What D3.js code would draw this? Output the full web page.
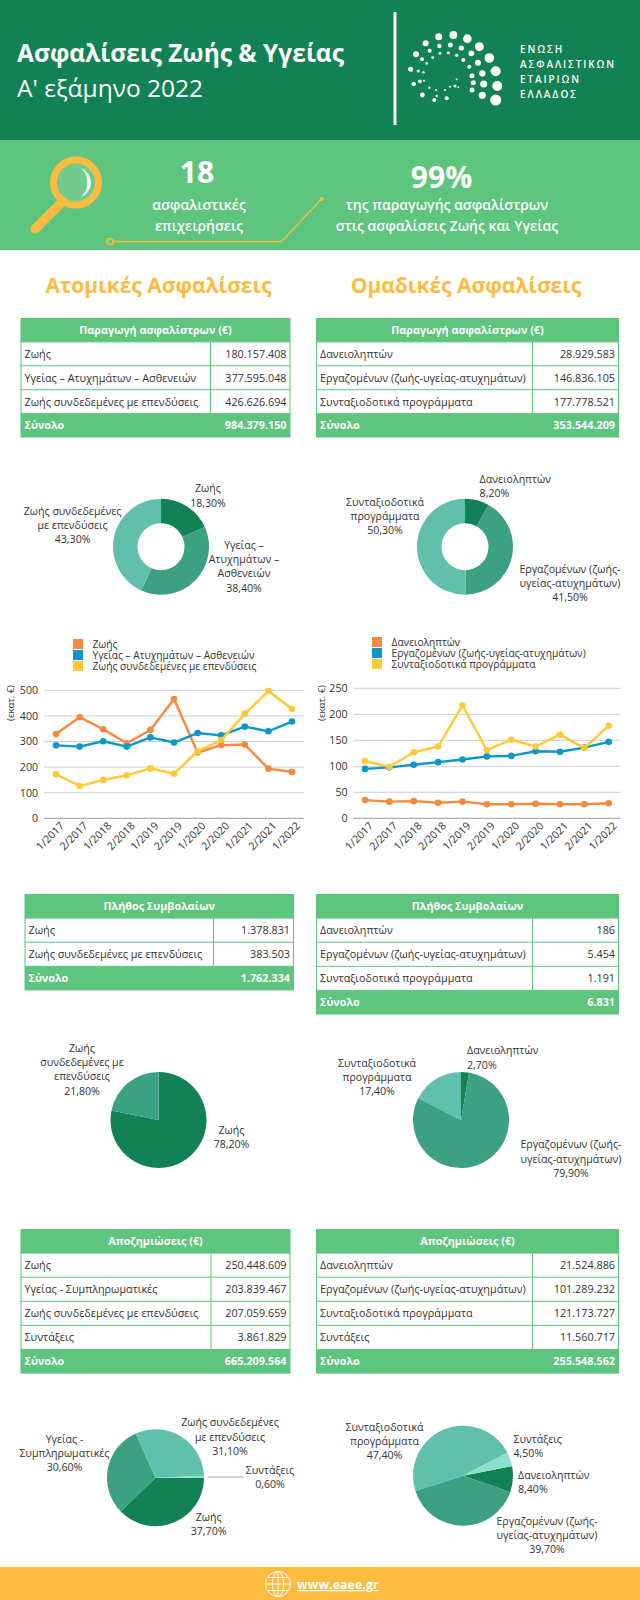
<!DOCTYPE html>
<html lang="el"><head><meta charset="utf-8">
<script src="https://cdn.jsdelivr.net/npm/d3@7"></script>
<style>html,body{margin:0;padding:0;background:#fff}svg{display:block}text{font-family:"Open Sans",sans-serif}</style>
</head><body><svg id="c" width="640" height="1600" viewBox="0 0 640 1600"></svg>
<script>
const periods = ["1/2017","2/2017","1/2018","2/2018","1/2019","2/2019","1/2020","2/2020","1/2021","2/2021","1/2022"];

const lineLeftNames = ["Ζωής","Υγείας – Ατυχημάτων – Ασθενειών","Ζωής συνδεδεμένες με επενδύσεις"];
const lineLeftLife = [329,395,348,293,345,466,257,286,288,194,181];
const lineLeftHealth = [285,280,301,280,316,296,333,324,358,340,378];
const lineLeftInvest = [172,126,150,168,195,174,262,306,408,497,427];
const lineLeftTicks = [0,100,200,300,400,500];

const lineRightNames = ["Δανειοληπτών","Εργαζομένων (ζωής-υγείας-ατυχημάτων)","Συνταξιοδοτικά προγράμματα"];
const lineRightLoan = [35,32,33,30,32,27,27,28,27,27,29];
const lineRightEmp = [95,98,103,108,113,119,120,129,128,136,147];
const lineRightPension = [110,99,127,138,217,131,151,138,161,135,178];
const lineRightTicks = [0,50,100,150,200,250];

const premLeftLabels = ["Ζωής","Υγείας – Ατυχημάτων – Ασθενειών","Ζωής συνδεδεμένες με επενδύσεις"];
const premLeftValues = ["180.157.408","377.595.048","426.626.694"];
const premLeftTotal = "984.379.150";
const premRightLabels = ["Δανειοληπτών","Εργαζομένων (ζωής-υγείας-ατυχημάτων)","Συνταξιοδοτικά προγράμματα"];
const premRightValues = ["28.929.583","146.836.105","177.778.521"];
const premRightTotal = "353.544.209";

const contrLeftLabels = ["Ζωής","Ζωής συνδεδεμένες με επενδύσεις"];
const contrLeftValues = ["1.378.831","383.503"];
const contrLeftTotal = "1.762.334";
const contrRightLabels = ["Δανειοληπτών","Εργαζομένων (ζωής-υγείας-ατυχημάτων)","Συνταξιοδοτικά προγράμματα"];
const contrRightValues = ["186","5.454","1.191"];
const contrRightTotal = "6.831";

const claimLeftLabels = ["Ζωής","Υγείας - Συμπληρωματικές","Ζωής συνδεδεμένες με επενδύσεις","Συντάξεις"];
const claimLeftValues = ["250.448.609","203.839.467","207.059.659","3.861.829"];
const claimLeftTotal = "665.209.564";
const claimRightLabels = ["Δανειοληπτών","Εργαζομένων (ζωής-υγείας-ατυχημάτων)","Συνταξιοδοτικά προγράμματα","Συντάξεις"];
const claimRightValues = ["21.524.886","101.289.232","121.173.727","11.560.717"];
const claimRightTotal = "255.548.562";

const shareDonutLeft = [18.3,38.4,43.3];
const shareDonutRight = [8.2,41.5,50.3];
const sharePieMidLeft = [78.2,21.8];
const sharePieMidRight = [2.7,79.9,17.4];
const sharePieLowLeft = [37.7,30.6,31.1,0.6];
const sharePieLowRight = [8.4,39.7,47.4,4.5];

const pieColors = ["#128156","#3ca083","#61c0ac","#8adfcf"];
const lineColors = ["#f58a3e","#0c97c9","#fdca35"];
const GREEN="#5ec57e", DARK="#128156", YEL="#fdbb3f", INK="#333";

const svg = d3.select("#c");

// ---- header
svg.append("rect").attr("width",640).attr("height",140).attr("fill",DARK);
svg.append("rect").attr("y",140).attr("width",640).attr("height",110).attr("fill",GREEN);
function txt(x,y,s,o={}){
  const t=svg.append("text").attr("x",x).attr("y",y).text(s)
   .attr("font-size",o.size||11).attr("fill",o.fill||INK)
   .attr("font-weight",o.weight||400).attr("text-anchor",o.anchor||"start");
  if(o.ls)t.attr("letter-spacing",o.ls);
  if(o.deco)t.attr("text-decoration",o.deco);
  return t;
}
txt(17,62,"Ασφαλίσεις Ζωής & Υγείας",{size:24.5,weight:700,fill:"#fff"});
txt(17,97,"Α' εξάμηνο 2022",{size:24.5,fill:"#fff"});
svg.append("rect").attr("x",393.5).attr("y",12).attr("width",3).attr("height",113).attr("fill","#f2f7f4");
["ΕΝΩΣΗ","ΑΣΦΑΛΙΣΤΙΚΩΝ","ΕΤΑΙΡΙΩΝ","ΕΛΛΑΔΟΣ"].forEach((s,i)=>txt(520,[53,68,82.5,97.5][i],s,{size:10,weight:600,fill:"#fff",ls:1.9}));

const logoDots=[[347,270,5.5],[352,228,5],[347,184,5],[328,144,4.8],[298,110,4.5],[262,86,4.3],[220,75,3.9],[176,80,3.5],[137,100,3],[108,133,3],[92,178,2.5],[101,222,2.2],
[307,256,3.6],[311,222,3.5],[307,190,3.2],[294,158,3],[274,130,2.9],[244,114,2.6],[211,105,2.5],[178,108,2.2],[149,122,2],[126,148,2],[115,183,1.6],[120,214,1.9],[127,255,2.4],
[276,240,2.5],[280,218,2.5],[276,197,2.5],[268,170,2],[250,150,2],[230,136,1.7],[205,128,1.5],[180,130,1.5],[158,143,1.4],[140,160,1.3],[130,187,1.2],[132,212,1],[148,233,1.2],[168,240,1],[170,258,1.2],[163,270,2],[200,265,2],[195,240,1],[210,230,1],[230,208,1],[225,228,1.5],[235,232,1]];
svg.append("g").selectAll("circle").data(logoDots).join("circle")
  .attr("cx",d=>380+d[0]/3).attr("cy",d=>10+d[1]/3).attr("r",d=>d[2]).attr("fill","#fff");

// magnifier
svg.append("path").attr("d",d3.line()([[60,204],[35,229]])).attr("stroke",YEL).attr("stroke-width",9).attr("stroke-linecap","round").attr("fill","none");
svg.append("circle").attr("cx",76).attr("cy",182.5).attr("r",22.5).attr("fill","#74cb90").attr("stroke",YEL).attr("stroke-width",7);
svg.append("path").attr("d","M81 168 A15.5 15.5 0 0 1 81 197 A20 20 0 0 0 81 168Z").attr("fill","#e9f5ee");

txt(197,183,"18",{size:30,weight:700,fill:"#fff",anchor:"middle"});
txt(199,210,"ασφαλιστικές",{size:14,weight:600,fill:"#fff",anchor:"middle"});
txt(199,231,"επιχειρήσεις",{size:14,weight:600,fill:"#fff",anchor:"middle"});
txt(441.5,188,"99%",{size:30,weight:700,fill:"#fff",anchor:"middle"});
txt(447,210,"της παραγωγής ασφαλίστρων",{size:14,weight:600,fill:"#fff",anchor:"middle"});
txt(447,231,"στις ασφαλίσεις Ζωής και Υγείας",{size:14,weight:600,fill:"#fff",anchor:"middle"});
svg.append("path").attr("d",d3.line()([[113,241.5],[281.5,241.5],[321.5,199]])).attr("stroke","#f4bf3a").attr("stroke-width",1.3).attr("fill","none");
svg.append("circle").attr("cx",110).attr("cy",241.5).attr("r",3).attr("fill","none").attr("stroke","#f4bf3a").attr("stroke-width",1.5);
svg.append("circle").attr("cx",321.5).attr("cy",199).attr("r",2).attr("fill","#f4bf3a");

txt(158.5,293,"Ατομικές Ασφαλίσεις",{size:21,weight:700,fill:YEL,anchor:"middle"});
txt(466,293,"Ομαδικές Ασφαλίσεις",{size:21,weight:700,fill:YEL,anchor:"middle"});

// ---- tables
function table(x0,x1,xd,y0,rowH,title,labels,values,total){
  const n=labels.length;
  const g=svg.append("g");
  g.append("rect").attr("x",x0).attr("y",y0).attr("width",x1-x0).attr("height",rowH).attr("fill",GREEN);
  g.append("rect").attr("x",x0).attr("y",y0+rowH*(n+1)).attr("width",x1-x0).attr("height",rowH).attr("fill",GREEN);
  g.append("rect").attr("x",x0+.5).attr("y",y0+rowH).attr("width",x1-x0-1).attr("height",rowH*n).attr("fill","#fff").attr("stroke",GREEN);
  labels.forEach((l,i)=>{
    const y=y0+rowH*(i+1);
    if(i>0)g.append("line").attr("x1",x0).attr("x2",x1).attr("y1",y).attr("y2",y).attr("stroke",GREEN);
    txt(x0+4,y+rowH/2+4,l,{size:10.8});
    txt(x1-4,y+rowH/2+4,values[i],{size:10.8,anchor:"end"});
  });
  g.append("line").attr("x1",xd).attr("x2",xd).attr("y1",y0+rowH).attr("y2",y0+rowH*(n+1)).attr("stroke",GREEN);
  txt((x0+x1)/2,y0+rowH/2+3.8,title,{size:10.8,weight:700,fill:"#fff",anchor:"middle"});
  const yt=y0+rowH*(n+1)+rowH/2+3.8;
  txt(x0+4,yt,"Σύνολο",{size:10.8,weight:700,fill:"#fff"});
  txt(x1-4,yt,total,{size:10.8,weight:700,fill:"#fff",anchor:"end"});
}
const T1="Παραγωγή ασφαλίστρων (€)",T2="Πλήθος Συμβολαίων",T3="Αποζημιώσεις (€)";
table(20.5,290.5,210.5,318,23.9,T1,premLeftLabels,premLeftValues,premLeftTotal);
table(316,619,532.5,318,23.9,T1,premRightLabels,premRightValues,premRightTotal);
table(24.5,294,213.5,894,24.1,T2,contrLeftLabels,contrLeftValues,contrLeftTotal);
table(316,619,532.5,894,24.1,T2,contrRightLabels,contrRightValues,contrRightTotal);
table(20.5,290.5,211,1229,24.1,T3,claimLeftLabels,claimLeftValues,claimLeftTotal);
table(316,619,532.5,1229,24.1,T3,claimRightLabels,claimRightValues,claimRightTotal);

// ---- pies
function pie(cx,cy,r,ri,vals,startDeg,colors){
  const gen=d3.pie().sort(null).startAngle(startDeg*Math.PI/180).endAngle((startDeg+360)*Math.PI/180);
  const arc=d3.arc().innerRadius(ri).outerRadius(r);
  svg.append("g").attr("transform",`translate(${cx},${cy})`).selectAll("path").data(gen(vals)).join("path")
    .attr("d",arc).attr("fill",(d,i)=>colors[i]);
}
function label(x,y,lines,anchor="middle"){
  lines.forEach((s,i)=>txt(x,y+3.7+i*14.3,s,{size:10.6,anchor}));
}
pie(161,546.7,48,23.5,shareDonutLeft,0,pieColors);
pie(465,546.7,48,23.5,shareDonutRight,0,pieColors);
pie(158.5,1120,48,0,sharePieMidLeft,0,pieColors);
pie(461,1120,48,0,sharePieMidRight,0,pieColors);
pie(155.5,1477.7,48.5,0,sharePieLowLeft,90,pieColors);
pie(463,1475.7,50,0,sharePieLowRight,79,pieColors);

label(208,488.7,["Ζωής","18,30%"]);
label(72.6,511,["Ζωής συνδεδεμένες","με επενδύσεις","43,30%"]);
label(244,545,["Υγείας –","Ατυχημάτων –","Ασθενειών","38,40%"]);
label(479.6,479,["Δανειοληπτών","8,20%"],"start");
label(385,502,["Συνταξιοδοτικά","προγράμματα","50,30%"]);
label(570,569,["Εργαζομένων (ζωής-","υγείας-ατυχημάτων)","41,50%"]);
label(82,1048,["Ζωής","συνδεδεμένες με","επενδύσεις","21,80%"]);
label(231.5,1130,["Ζωής","78,20%"]);
label(377,1063,["Συνταξιοδοτικά","προγράμματα","17,40%"]);
label(467,1050.6,["Δανειοληπτών","2,70%"],"start");
label(571,1144.5,["Εργαζομένων (ζωής-","υγείας-ατυχημάτων)","79,90%"]);
label(64.5,1439,["Υγείας -","Συμπληρωματικές","30,60%"]);
label(230,1422.7,["Ζωής συνδεδεμένες","με επενδύσεις","31,10%"]);
label(270,1470,["Συντάξεις","0,60%"]);
label(208.6,1517,["Ζωής","37,70%"]);
label(384.5,1427,["Συνταξιοδοτικά","προγράμματα","47,40%"]);
label(513.5,1439,["Συντάξεις","4,50%"],"start");
label(518,1475,["Δανειοληπτών","8,40%"],"start");
label(547,1521,["Εργαζομένων (ζωής-","υγείας-ατυχημάτων)","39,70%"]);
svg.append("line").attr("x1",208).attr("x2",244).attr("y1",1477).attr("y2",1477).attr("stroke","#9aa9c4").attr("stroke-width",1.2);

// ---- line charts
function lineChart(o){
  const x=d3.scalePoint().domain(periods).range([o.xf,o.xl]);
  const y=d3.scaleLinear().domain([0,o.max]).range([o.y0,o.y1]);
  const g=svg.append("g");
  const ga=g.append("g").attr("transform",`translate(${o.gl},0)`)
    .call(d3.axisLeft(y).tickValues(o.ticks).tickSize(0).tickPadding(o.pad));
  ga.select(".domain").remove();
  ga.selectAll("text").attr("font-size",10.6).attr("fill",INK).style("font-family",'"Open Sans",sans-serif');
  g.append("g").selectAll("line").data(o.ticks).join("line")
   .attr("x1",o.gl).attr("x2",o.gr).attr("y1",d=>y(d)).attr("y2",d=>y(d))
   .attr("stroke",d=>d===0?"#9a9a9a":"#cfcfcf").attr("stroke-width",1);
  const gb=g.append("g").attr("transform",`translate(0,${o.y0})`).call(d3.axisBottom(x).tickSize(0).tickPadding(8));
  gb.select(".domain").remove();
  gb.selectAll("text").attr("font-size",10.6).attr("fill",INK).style("font-family",'"Open Sans",sans-serif')
    .attr("text-anchor","end").attr("dy",".35em").attr("transform","rotate(-45)").attr("dx","0");
  const ln=d3.line().x((d,i)=>x(periods[i])).y(d=>y(d));
  o.series.forEach((s,k)=>{
    g.append("path").attr("d",ln(s)).attr("fill","none").attr("stroke",lineColors[k]).attr("stroke-width",2.4).attr("stroke-linejoin","round");
    g.append("g").selectAll("circle").data(s).join("circle")
      .attr("cx",(d,i)=>x(periods[i])).attr("cy",d=>y(d)).attr("r",3.3).attr("fill",lineColors[k]);
  });
  o.names.forEach((n,k)=>{
    const yy=o.ly+k*o.lh;
    g.append("rect").attr("x",o.lx).attr("y",yy-5).attr("width",10).attr("height",10).attr("fill",lineColors[k]);
    txt(o.lx+19.5,yy+3.7,n,{size:10.2});
  });
  const t=svg.append("text").attr("transform",`translate(${o.tx},${o.ty}) rotate(-90)`).attr("text-anchor","middle")
    .attr("font-size",9.5).attr("fill",INK).text("(εκατ. €)");
}
lineChart({xf:56,xl:292,y0:818.3,y1:690.3,max:500,gl:44,gr:304,ticks:lineLeftTicks,pad:6,series:[lineLeftLife,lineLeftHealth,lineLeftInvest],names:lineLeftNames,lx:73,ly:644,lh:11,tx:14,ty:703});
lineChart({xf:365,xl:608.7,y0:818.3,y1:688.3,max:250,gl:353.5,gr:620.5,ticks:lineRightTicks,pad:6,series:[lineRightLoan,lineRightEmp,lineRightPension],names:lineRightNames,lx:372,ly:642,lh:11,tx:325,ty:703});

// ---- footer
svg.append("rect").attr("y",1567).attr("width",640).attr("height",33).attr("fill",YEL);
const globe=svg.append("g").attr("transform","translate(278,1584)").attr("fill","none").attr("stroke","#fff").attr("stroke-width",1);
globe.append("circle").attr("r",12.5);
globe.append("ellipse").attr("rx",5.5).attr("ry",12.5);
globe.append("line").attr("y1",-12.5).attr("y2",12.5);
[-6.5,0,6.5].forEach(d=>globe.append("line").attr("x1",-Math.sqrt(156-d*d)).attr("x2",Math.sqrt(156-d*d)).attr("y1",d).attr("y2",d));
txt(297,1589,"www.eaee.gr",{size:12.5,weight:700,fill:"#fff",deco:"underline"});
</script></body></html>
